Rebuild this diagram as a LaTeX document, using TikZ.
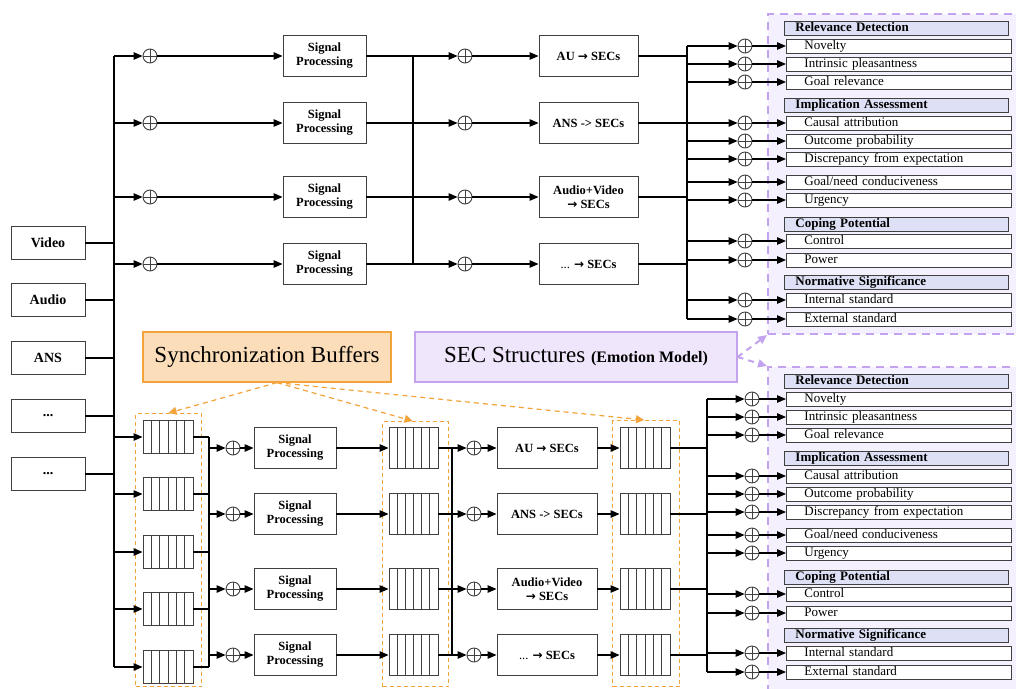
\documentclass[tikz,border=0pt]{standalone}
\usepackage{fontspec}
\setmainfont{Liberation Serif}
\newfontfamily\arrfont{DejaVu Sans}
\usetikzlibrary{arrows.meta,calc}
\definecolor{pbord}{HTML}{C3A2F0}
\definecolor{pfill}{HTML}{F5F0FD}
\definecolor{hdrfill}{HTML}{DEE1F6}
\definecolor{secfill}{HTML}{EFE6FB}
\definecolor{obord}{HTML}{F2A33A}
\definecolor{ofill}{HTML}{FBDDB9}
\definecolor{boxline}{HTML}{404040}
\newcommand\tdots{...}
\newcommand\barr{{\arrfont\bfseries\fontsize{12}{14}\selectfont →}}
\tikzset{
  ln/.style={line width=1.2pt,draw=black},
  arr/.style={ln,-{Triangle[length=9pt,width=7.5pt]}},
  blk/.style={draw=boxline,line width=0.9pt,fill=white,inner sep=0pt,align=center},
  inbox/.style={blk,minimum width=74pt,minimum height=33pt,font=\fontsize{14}{16}\selectfont\bfseries},
  spbox/.style={blk,minimum width=83pt,minimum height=41pt,font=\fontsize{12.5}{14}\selectfont\bfseries},
  secbox/.style={spbox,minimum width=100pt},
  oplus/.style={circle,draw=boxline,line width=0.9pt,fill=white,minimum size=14pt,inner sep=0pt,
    path picture={\draw[boxline,line width=0.9pt] (path picture bounding box.north) -- (path picture bounding box.south) (path picture bounding box.west) -- (path picture bounding box.east);}},
  bufcells/.style={blk,path picture={\foreach \c in {1,2,3,4,5}{\draw[boxline,line width=0.8pt] ($(path picture bounding box.south west)!\c/6!(path picture bounding box.south east)$) -- ($(path picture bounding box.north west)!\c/6!(path picture bounding box.north east)$);}}},
  bufA/.style={bufcells,minimum width=50pt,minimum height=33pt},
  bufB/.style={bufcells,minimum width=50pt,minimum height=41pt},
  grp/.style={draw=obord,line width=1.1pt,dash pattern=on 4pt off 3pt,anchor=north west,inner sep=0pt},
  pbox/.style={draw=pbord,fill=pfill,line width=2pt,dash pattern=on 8pt off 6pt,anchor=north west,inner sep=0pt,minimum width=256pt},
  hdr/.style={draw=boxline,line width=0.9pt,fill=hdrfill,anchor=west,minimum height=14pt,inner ysep=0pt,inner xsep=11pt,text width=202pt,text height=9pt,text depth=3pt,align=left,font=\fontsize{13}{14}\selectfont\bfseries},
  itm/.style={draw=boxline,line width=0.9pt,fill=white,anchor=west,minimum height=14pt,inner ysep=0pt,inner xsep=18pt,text width=189pt,text height=9pt,text depth=3pt,align=left,font=\fontsize{13}{14}\selectfont},
  pdash/.style={draw=pbord,line width=2pt,dash pattern=on 6pt off 5pt,-{Triangle[length=9pt,width=8pt,fill=pbord]}},
  odash/.style={draw=obord,line width=1.2pt,dash pattern=on 5pt off 4pt,-{Triangle[length=8pt,width=8pt,fill=obord]}},
  bigbox/.style={line width=1.2pt,inner sep=0pt,minimum height=50pt,font=\fontsize{23}{26}\selectfont},
}
\begin{document}
\begin{tikzpicture}[x=1pt,y=-1pt]
\useasboundingbox (0,0) rectangle (1016,688);

% ---------- emotion-model panels ----------
\node[pbox,minimum height=320pt] (upbox) at (767,13) {};
\node[pbox,minimum height=332pt] (lpbox) at (767,366) {};

% ---------- buffer groups ----------
\node[grp,minimum width=66pt,minimum height=273pt] (g1) at (135,413) {};
\node[grp,minimum width=66pt,minimum height=265pt] (g2) at (382,421) {};
\node[grp,minimum width=67pt,minimum height=266pt] (g3) at (612,420) {};

% ---------- coordinates of buses ----------
\coordinate (busL) at (114,56);
\coordinate (umid) at (413,56);
\coordinate (ubus) at (687,46);
\coordinate (lbA) at (209,437);
\coordinate (lbB) at (452,448);
\coordinate (lbus) at (707,399);

% ---------- inputs ----------
\foreach \n/\y/\t in {vid/243/Video, aud/300/Audio, ans/358/ANS, da/416/\tdots, db/474/\tdots}{
  \node[inbox] (\n) at (48,\y) {\t};
  \draw[ln] (\n.east) -- (\n.east -| busL);
}

% ---------- upper chain ----------
\foreach \i/\y/\t in {1/56/{AU \barr{} SECs}, 2/123/{ANS -> SECs}, 3/197/{Audio+Video\\\barr{} SECs}, 4/264/{{\mdseries\tdots} \barr{} SECs}}{
  \node[oplus] (ua\i) at (150,\y) {};
  \node[spbox] (usp\i) at (324.5,\y) {Signal\\Processing};
  \node[oplus] (ub\i) at (465,\y) {};
  \node[secbox,minimum width=99pt] (usec\i) at (588.5,\y) {\t};
  \draw[arr] (ua\i.west -| busL) -- (ua\i.west);
  \draw[arr] (ua\i.east) -- (usp\i.west);
  \draw[ln] (usp\i.east) -- (usp\i.east -| umid);
  \draw[arr] (ub\i.west -| umid) -- (ub\i.west);
  \draw[arr] (ub\i.east) -- (usec\i.west);
  \draw[ln] (usec\i.east) -- (usec\i.east -| ubus);
}
\draw[ln] (usp1.east -| umid) -- (usp4.east -| umid);

% ---------- lower chain ----------
\foreach \i/\y in {1/437,2/494,3/552,4/609,5/667}{
  \node[bufA] (lq\i) at (168,\y) {};
  \draw[arr] (lq\i.west -| busL) -- (lq\i.west);
  \draw[ln] (lq\i.east) -- (lq\i.east -| lbA);
}
\draw[ln] (busL) -- (lq5.west -| busL);
\draw[ln] (lq1.east -| lbA) -- (lq5.east -| lbA);

\foreach \i/\y/\t in {1/448/{AU \barr{} SECs}, 2/514/{ANS -> SECs}, 3/589/{Audio+Video\\\barr{} SECs}, 4/655/{{\mdseries\tdots} \barr{} SECs}}{
  \node[oplus] (la\i) at (233,\y) {};
  \node[spbox,minimum width=82pt] (lsp\i) at (295,\y) {Signal\\Processing};
  \node[bufB,minimum width=49pt] (lc\i) at (413.5,\y) {};
  \node[oplus] (ld\i) at (474,\y) {};
  \node[secbox] (lsec\i) at (547,\y) {\t};
  \node[bufB] (le\i) at (645,\y) {};
  \draw[arr] (la\i.west -| lbA) -- (la\i.west);
  \draw[arr] (la\i.east) -- (lsp\i.west);
  \draw[arr] (lsp\i.east) -- (lc\i.west);
  \draw[ln] (lc\i.east) -- (lc\i.east -| lbB);
  \draw[arr] (ld\i.west -| lbB) -- (ld\i.west);
  \draw[arr] (ld\i.east) -- (lsec\i.west);
  \draw[arr] (lsec\i.east) -- (le\i.west);
  \draw[ln] (le\i.east) -- (le\i.east -| lbus);
}
\draw[ln] (lc1.east -| lbB) -- (lc4.east -| lbB);

% ---------- appraisal checks ----------
\foreach \p/\off/\cx in {u/0/745, l/353/752}{
  \foreach \y/\t in {28/Relevance Detection, 105/Implication Assessment, 224/Coping Potential, 282/Normative Significance}{
    \node[hdr] at (784,\y+\off) {\t};
  }
  \foreach \k/\y/\t in {1/46/Novelty, 2/64/Intrinsic pleasantness, 3/82/Goal relevance, 4/123/Causal attribution, 5/141/Outcome probability, 6/159/Discrepancy from expectation, 7/182/{Goal/need conduciveness}, 8/200/Urgency, 9/241/Control, 10/260/Power, 11/300/Internal standard, 12/319/External standard}{
    \node[oplus] (\p o\k) at (\cx,\y+\off) {};
    \node[itm] (\p i\k) at (786,\y+\off) {\t};
    \draw[arr] (\p o\k.east) -- (\p i\k.west);
  }
}
\foreach \k in {1,2,3,4,5,6,7,8,9,10,11,12}{
  \draw[arr] (uo\k.west -| ubus) -- (uo\k.west);
  \draw[arr] (lo\k.west -| lbus) -- (lo\k.west);
}
\draw[ln] (uo1.west -| ubus) -- (uo12.west -| ubus);
\draw[ln] (lo1.west -| lbus) -- (lo12.west -| lbus);

% ---------- legend boxes ----------
\node[bigbox,draw=obord,fill=ofill,minimum width=248pt] (sync) at (267,357) {Synchronization Buffers};
\node[bigbox,draw=pbord,fill=secfill,minimum width=322pt] (secs) at (576,357) {SEC Structures {\fontsize{16}{18}\selectfont\bfseries (Emotion Model)}};

\draw[odash] ([xshift=10pt]sync.south) -- (g1.north);
\draw[odash] ([xshift=10pt]sync.south) -- ([xshift=-3pt]g2.north);
\draw[odash] ([xshift=10pt]sync.south) -- ([xshift=-2pt]g3.north);
\draw[pdash] (secs.east) -- (upbox.south west);
\draw[pdash] (secs.east) -- (lpbox.north west);
\end{tikzpicture}
\end{document}
